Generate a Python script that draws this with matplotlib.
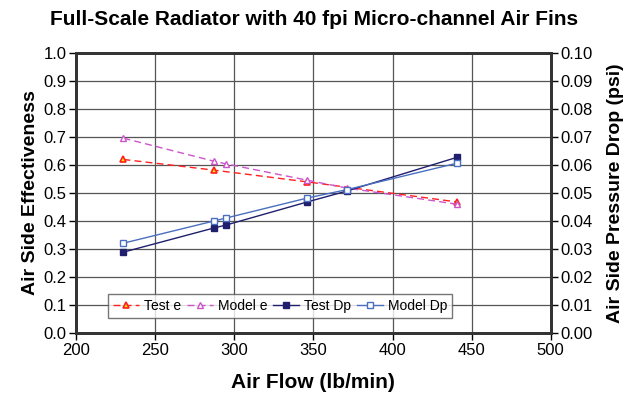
import matplotlib
matplotlib.use("Agg")
import matplotlib.pyplot as plt

plt.rcParams['font.family'] = ['Liberation Sans', 'DejaVu Sans']

# air flow (lb/min)
flow_test_e = [230, 287, 346, 441]
test_e = [0.62, 0.582, 0.54, 0.468]

flow_model = [230, 287, 295, 346, 371, 441]
model_e = [0.696, 0.614, 0.604, 0.546, 0.518, 0.46]

# pressure drop (psi)
test_dp = [0.0289, 0.0375, 0.0386, 0.0468, 0.0507, 0.0628]
model_dp = [0.0321, 0.0400, 0.0411, 0.0482, 0.0512, 0.0607]

fig = plt.figure(figsize=(6.28, 3.96), dpi=100)
ax = fig.add_axes([0.121, 0.159, 0.756, 0.707])
ax2 = ax.twinx()

l1, = ax.plot(flow_test_e, test_e, color="#FF2020", ls=(0, (5, 3)), lw=1,
              marker="^", ms=5, mfc="#FFE000", mec="#FF2020", mew=1.2, label="Test e")
l2, = ax.plot(flow_model, model_e, color="#CC55CC", ls=(0, (5, 3)), lw=1,
              marker="^", ms=5, mfc="white", mec="#CC55CC", mew=1, label="Model e")
l3, = ax2.plot(flow_model, test_dp, color="#1F1F6E", lw=1,
               marker="s", ms=5, mfc="#1F1F6E", mec="#1F1F6E", label="Test Dp")
l4, = ax2.plot(flow_model, model_dp, color="#4A6FC0", lw=1,
               marker="s", ms=5, mfc="white", mec="#4A6FC0", mew=1, label="Model Dp")

ax.set_xlim(200, 500)
ax.set_ylim(0, 1.0)
ax2.set_ylim(0, 0.10)
ax.set_xticks(range(200, 501, 50))
ax.set_yticks([i / 10 for i in range(11)])
ax.set_yticklabels([f"{i / 10:.1f}" for i in range(11)])
ax2.set_yticks([i / 100 for i in range(11)])
ax2.set_yticklabels([f"{i / 100:.2f}" for i in range(11)])

ax.grid(True, color="#555555", lw=0.9)
ax.set_axisbelow(True)

for a in (ax, ax2):
    for s in a.spines.values():
        s.set_linewidth(2)
        s.set_color("#333333")
    a.tick_params(labelsize=12, length=5, width=1, direction="out", pad=2)

ax.set_xlabel("Air Flow (lb/min)", fontsize=15, fontweight="bold", labelpad=11)
ax.set_ylabel("Air Side Effectiveness", fontsize=14, fontweight="bold", labelpad=3)
ax2.set_ylabel("Air Side Pressure Drop (psi)", fontsize=14, fontweight="bold", labelpad=10)
fig.text(0.5, 0.95, "Full-Scale Radiator with 40 fpi Micro-channel Air Fins",
         fontsize=15, fontweight="bold", ha="center", va="center")

leg = ax2.legend(handles=[l1, l2, l3, l4], loc="lower center", ncol=4,
                 bbox_to_anchor=(0.43, 0.03), fontsize=10, frameon=True,
                 fancybox=False, edgecolor="#555555", handlelength=1.9,
                 handletextpad=0.35, columnspacing=0.4, borderpad=0.35)
leg.get_frame().set_linewidth(1)

plt.savefig("out.png", dpi=100)
